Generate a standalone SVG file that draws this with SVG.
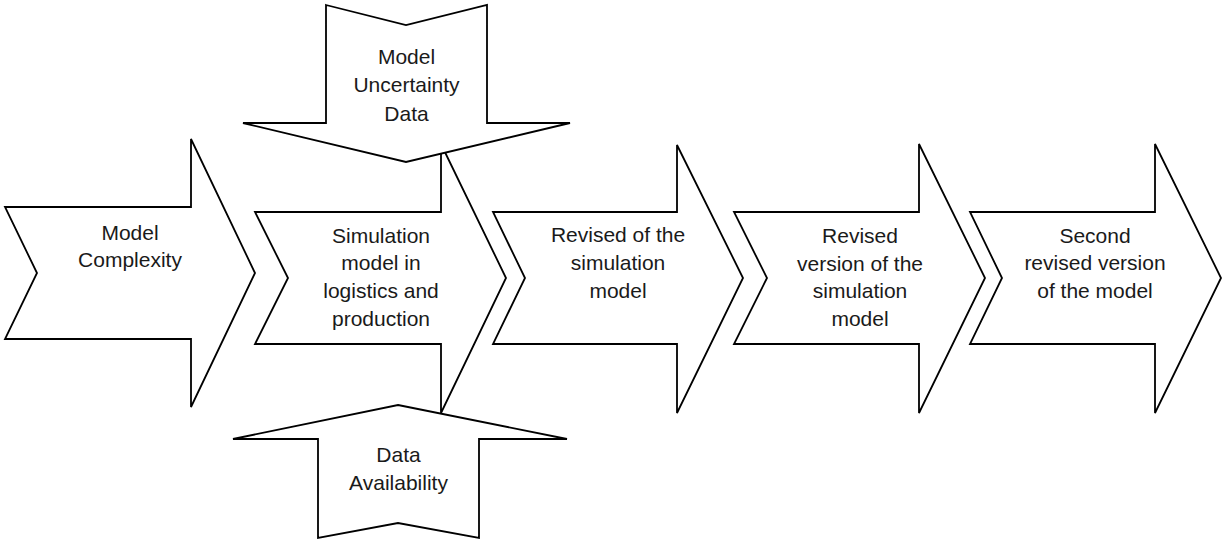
<svg xmlns="http://www.w3.org/2000/svg" width="1222" height="540" viewBox="0 0 1222 540">
  <style>
    .shape { fill: #ffffff; stroke: #000000; stroke-width: 1.8; stroke-linejoin: miter; }
    .label { font-family: "Liberation Sans", Arial, sans-serif; font-size: 21px; fill: #1a1a1a; text-anchor: middle; }
  </style>
  <rect width="1222" height="540" fill="#ffffff"/>

  <!-- main chain of chevron arrows -->
  <g id="model-complexity">
    <polygon class="shape" points="5,207 191,207 191,139 255,273 191,407 191,339 5,339 37,273"/>
    <text class="label" x="130" y="239.5">Model</text>
    <text class="label" x="130" y="266.8">Complexity</text>
  </g>

  <g id="simulation-model">
    <polygon class="shape" points="255,212 441,212 441,144 506,278 441,413 441,344 255,344 288,278"/>
    <text class="label" x="381" y="242.7">Simulation</text>
    <text class="label" x="381" y="270.4">model in</text>
    <text class="label" x="381" y="298.1">logistics and</text>
    <text class="label" x="381" y="325.8">production</text>
  </g>

  <g id="revised-of-model">
    <polygon class="shape" points="493,212 677,212 677,145 743,278 677,413 677,344 493,344 525,278"/>
    <text class="label" x="618" y="242">Revised of the</text>
    <text class="label" x="618" y="270">simulation</text>
    <text class="label" x="618" y="298">model</text>
  </g>

  <g id="revised-version">
    <polygon class="shape" points="734,212 919,212 919,144 985,278 919,413 919,344 734,344 767,278"/>
    <text class="label" x="860" y="242.7">Revised</text>
    <text class="label" x="860" y="270.5">version of the</text>
    <text class="label" x="860" y="298.3">simulation</text>
    <text class="label" x="860" y="326.1">model</text>
  </g>

  <g id="second-revised-version">
    <polygon class="shape" points="970,212 1155,212 1155,144 1221,278 1155,413 1155,344 970,344 1002,278"/>
    <text class="label" x="1095" y="242.7">Second</text>
    <text class="label" x="1095" y="270.3">revised version</text>
    <text class="label" x="1095" y="298">of the model</text>
  </g>

  <!-- influence arrows pressing on the simulation model -->
  <g id="model-uncertainty-data">
    <polygon class="shape" points="326,5 406,25 487,5 487,123 570,123 406,162 243,123 326,123"/>
    <text class="label" x="406.5" y="64">Model</text>
    <text class="label" x="406.5" y="92.3">Uncertainty</text>
    <text class="label" x="406.5" y="120.5">Data</text>
  </g>

  <g id="data-availability">
    <polygon class="shape" points="398,405 567,439 479,439 479,538 398,523 318,538 318,439 233,439"/>
    <text class="label" x="398.5" y="461.7">Data</text>
    <text class="label" x="398.5" y="490">Availability</text>
  </g>
</svg>
